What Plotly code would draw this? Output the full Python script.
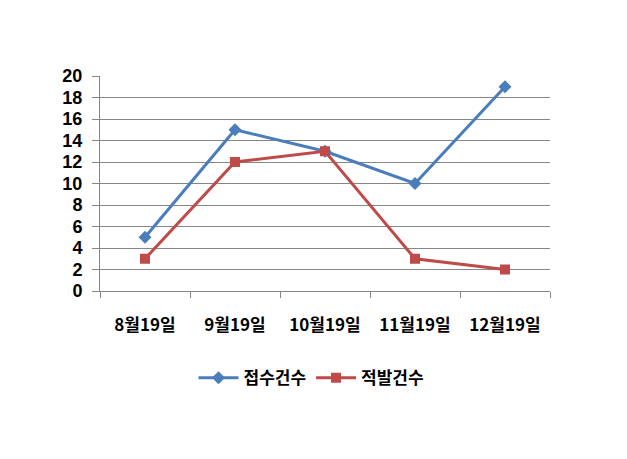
import plotly.graph_objects as go

categories = ["8월19일", "9월19일", "10월19일", "11월19일", "12월19일"]
received = [5, 15, 13, 10, 19]
caught = [3, 12, 13, 3, 2]
series_names = ["접수건수", "적발건수"]
y_ticks = list(range(0, 21, 2))

FONT = "Noto Sans CJK KR"
NUMFONT = "Liberation Sans"
BLUE = "#4a7ebb"
RED = "#be4b48"

fig = go.Figure()
fig.add_trace(go.Scatter(
    x=categories, y=received, name=series_names[0], mode="lines+markers",
    line=dict(color=BLUE, width=3),
    marker=dict(symbol="diamond", size=10, color=BLUE),
))
fig.add_trace(go.Scatter(
    x=categories, y=caught, name=series_names[1], mode="lines+markers",
    line=dict(color=RED, width=3),
    marker=dict(symbol="square", size=10, color=RED),
))

fig.update_layout(
    width=627, height=459,
    margin=dict(l=92, r=85, t=68, b=176, autoexpand=False),
    paper_bgcolor="white", plot_bgcolor="white",
    font=dict(family=FONT, size=17, color="#000000"),
    showlegend=True,
    legend=dict(orientation="h", x=0.47, xanchor="center", y=-0.405, yanchor="middle",
                font=dict(family=FONT, size=17, color="#000000", weight="bold"),
                itemwidth=40, tracegroupgap=0),
    xaxis=dict(
        type="category", range=[-0.5, 4.5], tickson="boundaries",
        ticks="outside", ticklen=6, tickcolor="#868686", tickwidth=1,
        showline=True, linecolor="#868686", linewidth=1,
        showgrid=False, ticklabelstandoff=19,
        tickfont=dict(family=FONT, size=17, color="#000000", weight="bold"),
    ),
    yaxis=dict(
        range=[0, 20], tickvals=y_ticks,
        ticks="outside", ticklen=7, tickcolor="#868686", tickwidth=1,
        showline=True, linecolor="#868686", linewidth=1,
        showgrid=True, gridcolor="#868686", gridwidth=1, zeroline=False,
        ticklabelstandoff=6,
        tickfont=dict(family=NUMFONT, size=18, color="#000000", weight="bold"),
    ),
)

fig.write_html("out.html")
